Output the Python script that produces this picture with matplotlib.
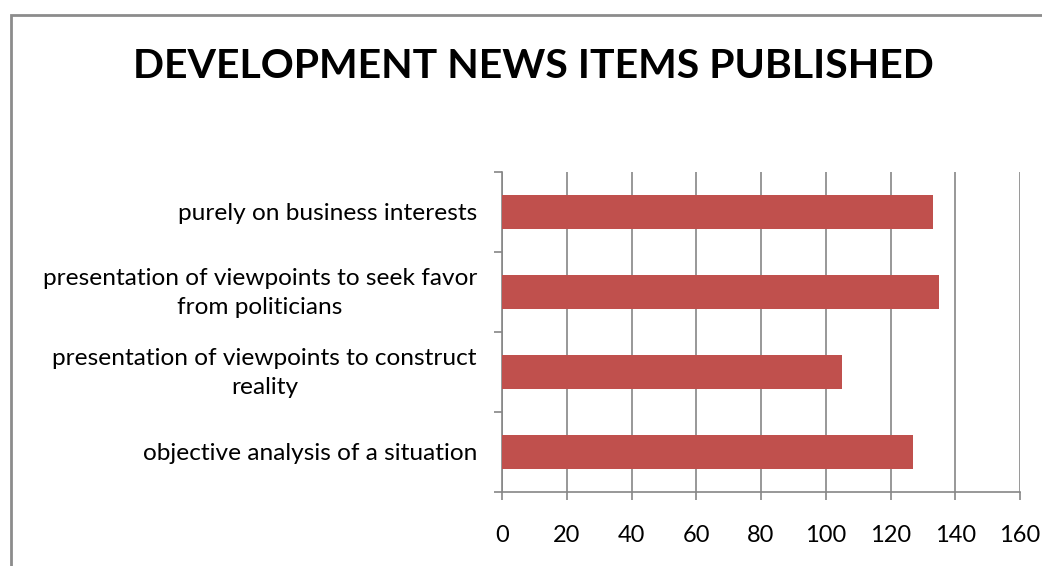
import matplotlib.pyplot as plt
import matplotlib.transforms as mtransforms
from matplotlib.patches import Rectangle

# news item categories, bottom to top
categories = ['objective analysis of a situation',
              'presentation of viewpoints to construct\nreality',
              'presentation of viewpoints to seek favor\nfrom politicians',
              'purely on business interests']
counts = [127, 105, 135, 133]
xticks = [0, 20, 40, 60, 80, 100, 120, 140, 160]

plt.rcParams['font.family'] = ['Lato', 'DejaVu Sans']

fig = plt.figure(figsize=(10.42, 5.66), dpi=100)

# outer chart border
fig.patches.append(Rectangle((11/1042, -0.1), 1.2, 1 - 15/566 + 0.1,
                             transform=fig.transFigure, fill=False,
                             edgecolor='#8c8c8c', linewidth=2))

ax = fig.add_axes([502/1042, 1 - 492/566, 518/1042, 320/566])

ypos = list(range(len(categories)))
ax.barh(ypos, counts, height=0.42, color='#C0504D', zorder=3)

ax.set_xlim(0, 160)
ax.set_ylim(-0.5, 3.5)
ax.set_xticks(xticks)
ax.set_xticklabels([str(x) for x in xticks], fontsize=17)
ax.xaxis.grid(True, color='#868686', linewidth=1.2)

# tick marks between categories, labels at the centres
ax.set_yticks([-0.5, 0.5, 1.5, 2.5, 3.5])
ax.set_yticklabels([])
ax.set_yticks(ypos, minor=True)
labels = ax.set_yticklabels(categories, minor=True, fontsize=17.6,
                            multialignment='center', linespacing=1.5)
ax.tick_params(axis='y', which='minor', length=0, pad=18)
ax.tick_params(axis='y', which='major', length=6, color='#868686', width=1.2)
ax.tick_params(axis='x', length=6, color='#868686', width=1.2, pad=18)

# nudge the two-line labels up a little
shift = mtransforms.ScaledTranslation(0, 5/100, fig.dpi_scale_trans)
for lab in ax.get_yticklabels(minor=True):
    if '\n' in lab.get_text():
        lab.set_transform(lab.get_transform() + shift)

for s in ['top', 'right']:
    ax.spines[s].set_visible(False)
for s in ['left', 'bottom']:
    ax.spines[s].set_color('#868686')
    ax.spines[s].set_linewidth(1.2)

fig.text(533/1042, 1 - 67/566, 'DEVELOPMENT NEWS ITEMS PUBLISHED',
         ha='center', va='center', fontsize=29.5, fontweight='bold')

fig.savefig('out.png', dpi=100)
